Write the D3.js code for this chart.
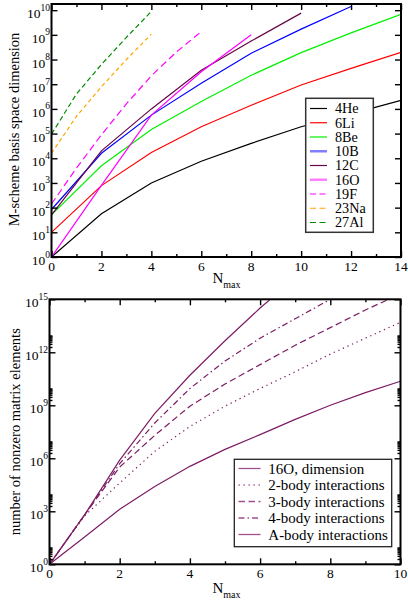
<!DOCTYPE html>
<html>
<head>
<meta charset="utf-8">
<script src="https://cdn.jsdelivr.net/npm/d3@7"></script>
<style>
  body { margin: 0; background: #fff; }
  svg { display: block; font-family: "Liberation Serif", "DejaVu Serif", serif; }
</style>
</head>
<body>
<div id="chart"></div>
<script>
const width = 408;
const height = 601;

// upper panel: M-scheme dimensions
const nuclei = ['4He', '6Li', '8Be', '10B', '12C', '16O', '19F', '23Na', '27Al'];
const nmaxEven14 = [0, 2, 4, 6, 8, 10, 12, 14];
const nmaxEven12 = [0, 2, 4, 6, 8, 10, 12];
const nmaxEven10 = [0, 2, 4, 6, 8, 10];
const nmaxEven8 = [0, 2, 4, 6, 8];
const nmaxAll6 = [0, 1, 2, 3, 4, 5, 6];
const nmaxAll4 = [0, 1, 2, 3, 4];
const dimHe4 = [1, 56, 1.0e3, 7.6e3, 4.0e4, 1.9e5, 6.3e5, 2.2e6];
const dimLi6 = [10, 7.8e2, 1.7e4, 1.9e5, 1.4e6, 9.3e6, 4.4e7, 1.95e8];
const dimBe8 = [51, 5.0e3, 1.45e5, 2.0e6, 2.3e7, 1.9e8, 1.2e9, 6.8e9];
const dimB10 = [84, 1.6e4, 5.6e5, 1.1e7, 1.8e8, 1.7e9, 1.4e10];
const dimC12 = [51, 2.0e4, 1.0e6, 3.7e7, 5.6e8, 7.6e9];
const dimO16 = [1, 8.0e2, 5.6e5, 3.2e7, 1.0e9];
const dimF19 = [1.4e2, 4.0e3, 8.9e4, 1.6e6, 2.2e7, 2.0e8, 1.35e9];
const dimNa23 = [1.6e4, 5.0e5, 7.9e6, 1.0e8, 1.07e9];
const dimAl27 = [9.5e4, 4.0e6, 6.3e7, 7.9e8, 8.9e9];

// lower panel: nonzero matrix elements for 16O
const interactions = ['16O, dimension', '2-body interactions', '3-body interactions',
  '4-body interactions', 'A-body interactions'];
const nmaxLow = [0, 1, 2, 3, 4, 5, 6, 7, 8, 9, 10];
const o16Dim = [1, 35, 1.3e3, 2.5e4, 3.5e5, 3.2e6, 2.2e7, 1.6e8, 1.0e9, 5.2e9, 2.3e10];
const nnz2 = [1, 5.6e2, 4.0e4, 2.5e6, 6.3e7, 8.9e8, 8.9e9, 7.9e10, 7.9e11, 6.3e12, 5.0e13];
const nnz3 = [1, 6.3e2, 3.2e5, 2.0e7, 8.9e8, 1.6e10, 2.0e11, 2.5e12, 2.5e13, 2.5e14, 2.0e15];
const nnz4 = [1, 6.3e2, 5.0e5, 1.0e8, 8.9e9, 3.2e11, 6.3e12, 7.9e13, 1.0e15];
const nnzA = [1, 6.3e2, 7.9e5, 3.5e8, 5.0e10, 4.5e12, 3.2e14, 1.6e16];

const topXTicks = [0, 2, 4, 6, 8, 10, 12, 14];
const topXMinor = [1, 3, 5, 7, 9, 11, 13];
const topYExp = [0, 1, 2, 3, 4, 5, 6, 7, 8, 9, 10];
const lowXTicks = [0, 2, 4, 6, 8, 10];
const lowXMinor = [1, 3, 5, 7, 9];
const lowYExp = [0, 3, 6, 9, 12, 15];

const maroon = '#670748';
const lowColor = '#7d1d66';

const svg = d3.select('#chart').append('svg')
  .attr('width', width)
  .attr('height', height);

// ---------- upper panel ----------
const x1 = d3.scaleLinear().domain([0, 14]).range([51.5, 401]);
const y1 = d3.scaleLog().domain([1, Math.pow(10, 10.25)]).range([257, 4]);

const topSeries = [
  {name: nuclei[0], xs: nmaxEven14, ys: dimHe4, color: '#000', dash: null},
  {name: nuclei[1], xs: nmaxEven14, ys: dimLi6, color: '#ff0000', dash: null},
  {name: nuclei[2], xs: nmaxEven14, ys: dimBe8, color: '#00f000', dash: null},
  {name: nuclei[3], xs: nmaxEven12, ys: dimB10, color: '#0000ff', dash: null, legendW: 2.5, legendColor: '#7f7fff'},
  {name: nuclei[4], xs: nmaxEven10, ys: dimC12, color: maroon, dash: null},
  {name: nuclei[5], xs: nmaxEven8, ys: dimO16, color: '#ff00ff', dash: null, legendW: 2.5, legendColor: '#ff7fff'},
  {name: nuclei[6], xs: nmaxAll6, ys: dimF19, color: '#ff00ff', dash: '7,4'},
  {name: nuclei[7], xs: nmaxAll4, ys: dimNa23, color: '#ffa500', dash: '4,3'},
  {name: nuclei[8], xs: nmaxAll4, ys: dimAl27, color: '#008b00', dash: '5,3'}
];

drawPanel({
  x: x1, y: y1, clipId: 'clipTop',
  xTicks: topXTicks, xMinor: topXMinor,
  yTicks: topYExp.map(e => Math.pow(10, e)), yExp: topYExp, yMinor: [],
  series: topSeries, lineW: 1.2
});

// axis titles (upper)
svg.append('text')
  .attr('transform', 'translate(18.5,129.5) rotate(-90)')
  .attr('text-anchor', 'middle')
  .attr('font-size', 14.5)
  .text('M-scheme basis space dimension');
nmaxTitle(212.5, 283.3);

// legend (upper)
const leg1 = svg.append('g');
leg1.append('rect')
  .attr('x', 305.7).attr('y', 98.3)
  .attr('width', 67.6).attr('height', 134)
  .attr('fill', '#fff').attr('stroke', '#333').attr('stroke-width', 1.5);
topSeries.forEach((s, i) => {
  const cy = 108.5 + i * 14.25;
  leg1.append('line')
    .attr('x1', 310).attr('x2', 327).attr('y1', cy).attr('y2', cy)
    .attr('stroke', s.legendColor || s.color)
    .attr('stroke-width', s.legendW || 1.2)
    .attr('stroke-dasharray', s.dash ? '6,3.5' : null);
  leg1.append('text')
    .attr('x', 335).attr('y', cy + 4.8)
    .attr('font-size', 14.2)
    .text(s.name);
});

// ---------- lower panel ----------
const x2 = d3.scaleLinear().domain([0, 10]).range([49.5, 400.5]);
const y2 = d3.scaleLog().domain([1, 1e15]).range([564.3, 299.3]);

const lowMinor = [];
[0, 3, 6, 9, 12].forEach(e => {
  for (let k = 2; k <= 9; k++) lowMinor.push(k * Math.pow(10, e));
});

const lowSeries = [
  {name: interactions[0], xs: nmaxLow, ys: o16Dim, color: lowColor, dash: null},
  {name: interactions[1], xs: nmaxLow, ys: nnz2, color: lowColor, dash: '1.3,3.7'},
  {name: interactions[2], xs: nmaxLow, ys: nnz3, color: lowColor, dash: '6.5,3.5'},
  {name: interactions[3], xs: nmaxLow.slice(0, nnz4.length), ys: nnz4, color: lowColor, dash: '6,3,1.5,3'},
  {name: interactions[4], xs: nmaxLow.slice(0, nnzA.length), ys: nnzA, color: lowColor, dash: null}
];

drawPanel({
  x: x2, y: y2, clipId: 'clipLow',
  xTicks: lowXTicks, xMinor: lowXMinor,
  yTicks: lowYExp.map(e => Math.pow(10, e)), yExp: lowYExp, yMinor: lowMinor,
  series: lowSeries, lineW: 1.2
});

svg.append('text')
  .attr('transform', 'translate(19.5,431.7) rotate(-90)')
  .attr('text-anchor', 'middle')
  .attr('font-size', 14.5)
  .text('number of nonzero matrix elements');
nmaxTitle(212.5, 593.3);

const leg2 = svg.append('g');
leg2.append('rect')
  .attr('x', 234.3).attr('y', 459.3)
  .attr('width', 157.4).attr('height', 87.4)
  .attr('fill', '#fff').attr('stroke', '#222').attr('stroke-width', 1.3);
lowSeries.forEach((s, i) => {
  const cy = 468.5 + i * 16.5;
  leg2.append('line')
    .attr('x1', 238.5).attr('x2', 260.5).attr('y1', cy).attr('y2', cy)
    .attr('stroke', '#a0508c')
    .attr('stroke-width', 1.3)
    .attr('stroke-dasharray', s.dash);
  leg2.append('text')
    .attr('x', 268.3).attr('y', cy + 5)
    .attr('font-size', 15)
    .text(s.name);
});


function drawPanel(p) {
  const [xl, xr] = p.x.range();
  const [yb, yt] = p.y.range();

  svg.append('clipPath').attr('id', p.clipId)
    .append('rect')
    .attr('x', xl).attr('y', yt)
    .attr('width', xr - xl).attr('height', yb - yt);

  const line = d3.line()
    .x(d => p.x(d[0]))
    .y(d => p.y(d[1]));

  const g = svg.append('g').attr('clip-path', `url(#${p.clipId})`);
  p.series.forEach(s => {
    g.append('path')
      .datum(s.xs.map((n, i) => [n, s.ys[i]]))
      .attr('d', line)
      .attr('fill', 'none')
      .attr('stroke', s.color)
      .attr('stroke-width', p.lineW)
      .attr('stroke-dasharray', s.dash);
  });

  // ticks on all four sides, pointing inward
  const tickAxis = (axisFn, scale, vals, size, tx, ty) => {
    svg.append('g')
      .attr('transform', `translate(${tx},${ty})`)
      .call(axisFn(scale).tickValues(vals).tickSize(size).tickFormat(''))
      .call(gg => gg.select('.domain').remove())
      .selectAll('line').attr('stroke', '#000').attr('stroke-width', 1.4);
  };
  tickAxis(d3.axisBottom, p.x, p.xTicks, -6, 0, yb);
  tickAxis(d3.axisBottom, p.x, p.xMinor, -3, 0, yb);
  tickAxis(d3.axisTop, p.x, p.xTicks, -6, 0, yt);
  tickAxis(d3.axisTop, p.x, p.xMinor, -3, 0, yt);
  tickAxis(d3.axisLeft, p.y, p.yTicks, -6, xl, 0);
  tickAxis(d3.axisRight, p.y, p.yTicks, -6, xr, 0);
  if (p.yMinor.length) {
    tickAxis(d3.axisLeft, p.y, p.yMinor, -3, xl, 0);
    tickAxis(d3.axisRight, p.y, p.yMinor, -3, xr, 0);
  }

  svg.append('rect')
    .attr('x', xl).attr('y', yt)
    .attr('width', xr - xl).attr('height', yb - yt)
    .attr('fill', 'none').attr('stroke', '#000').attr('stroke-width', 2);

  // tick labels
  p.xTicks.forEach(v => {
    svg.append('text')
      .attr('x', p.x(v)).attr('y', yb + 13.5)
      .attr('text-anchor', 'middle')
      .attr('font-size', 13.5)
      .text(v);
  });
  p.yTicks.forEach((v, i) => {
    const t = svg.append('text')
      .attr('x', xl - 1.5).attr('y', p.y(v) + 8)
      .attr('text-anchor', 'end')
      .attr('font-size', 13.5);
    t.append('tspan').text('10');
    t.append('tspan').attr('dy', -7.5).attr('font-size', 9.5).text(p.yExp[i]);
  });
}

function nmaxTitle(x, y) {
  const t = svg.append('text')
    .attr('x', x).attr('y', y)
    .attr('font-size', 15);
  t.append('tspan').text('N');
  t.append('tspan').attr('dy', 4.7).attr('font-size', 10).text('max');
}
</script>
</body>
</html>
